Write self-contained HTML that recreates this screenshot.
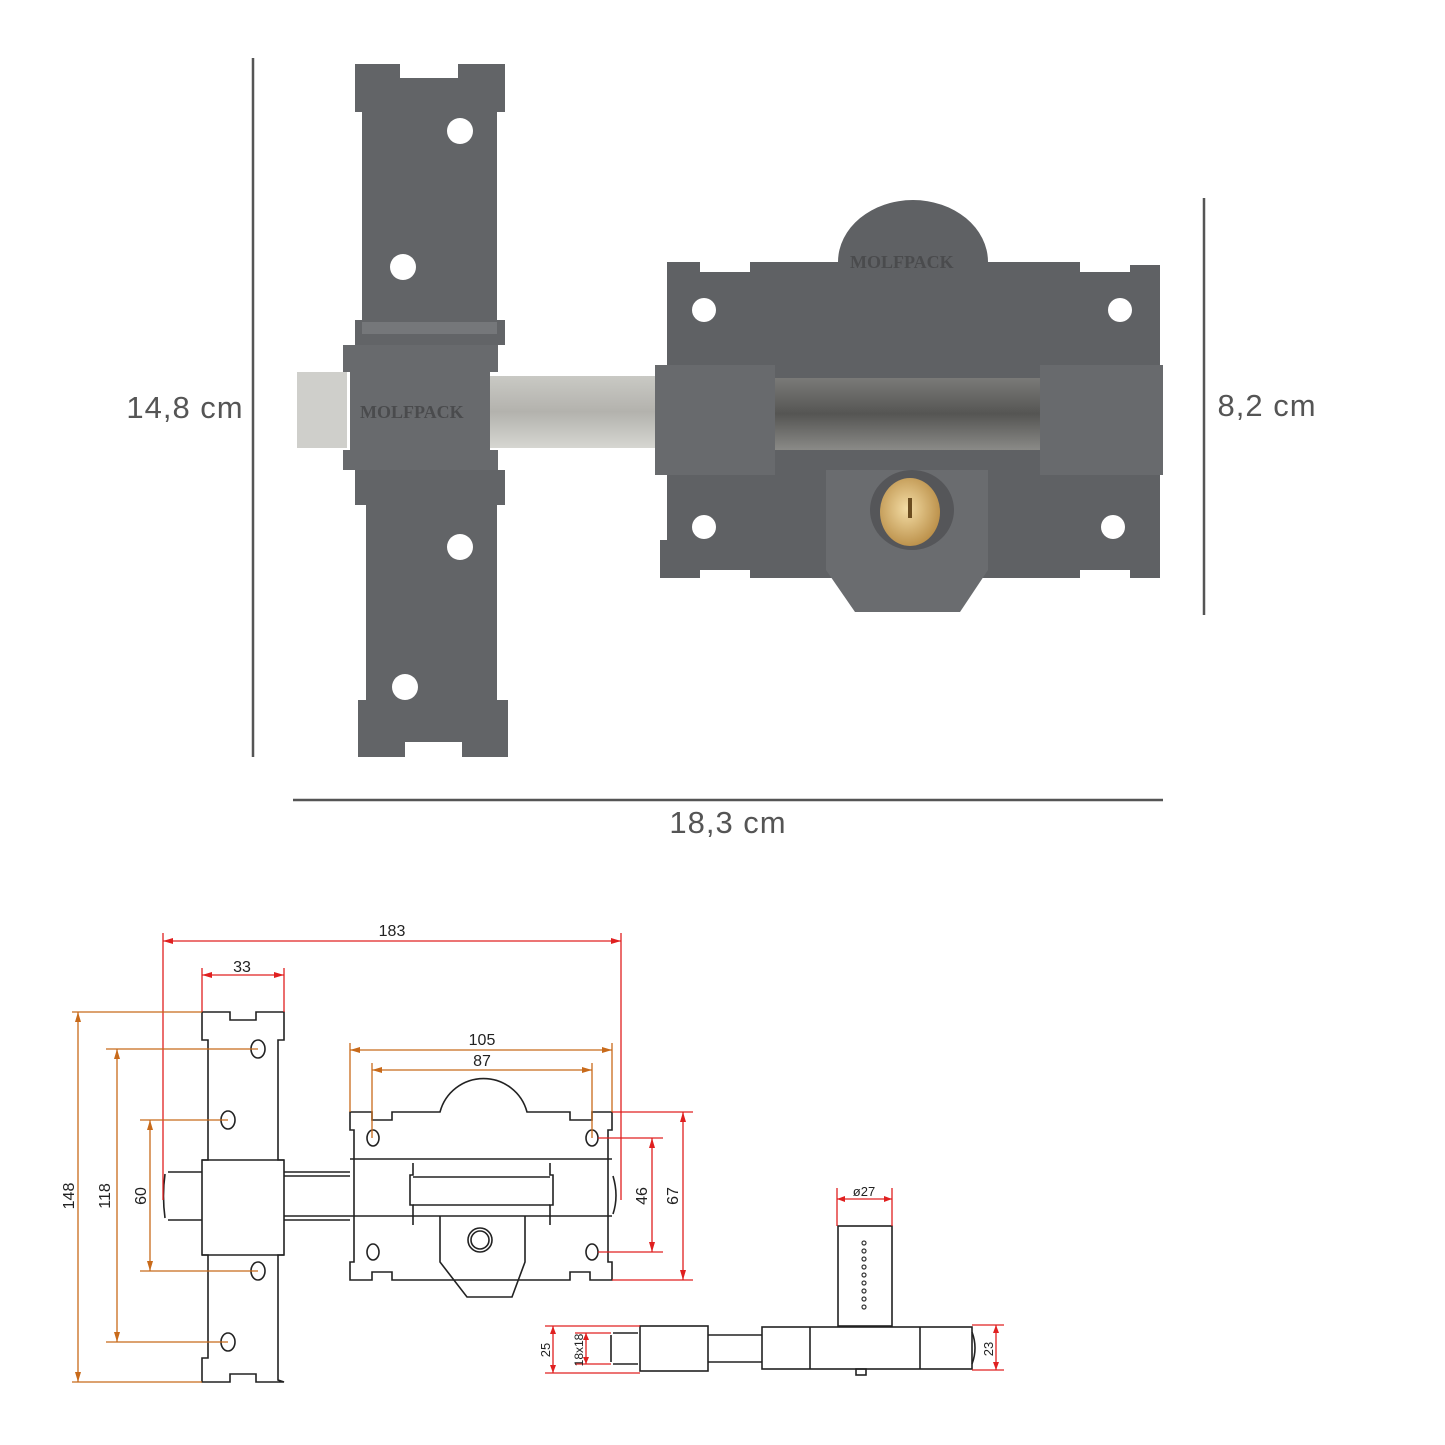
<!DOCTYPE html>
<html><head><meta charset="utf-8"><style>
html,body{margin:0;padding:0;background:#fff;}
svg{display:block;}
</style></head><body>
<svg width="1445" height="1445" viewBox="0 0 1445 1445" xmlns="http://www.w3.org/2000/svg">
<defs>
<linearGradient id="bar" x1="0" y1="0" x2="0" y2="1">
<stop offset="0" stop-color="#c9c9c4"/><stop offset="0.5" stop-color="#b3b2ad"/><stop offset="1" stop-color="#d6d6d1"/>
</linearGradient>
<linearGradient id="bar2" x1="0" y1="0" x2="0" y2="1">
<stop offset="0" stop-color="#7a7a78"/><stop offset="0.5" stop-color="#555553"/><stop offset="1" stop-color="#8a8a87"/>
</linearGradient>
<radialGradient id="gold" cx="0.45" cy="0.45" r="0.6">
<stop offset="0" stop-color="#f3dca4"/><stop offset="1" stop-color="#b88c45"/>
</radialGradient>
</defs>

<!-- PHOTO -->
<path d="M355,64 L400,64 L400,78 L458,78 L458,64 L505,64 L505,112 L497,112 L497,320 L505,320 L505,345 L355,345 L355,320 L362,320 L362,112 L355,112 Z" fill="#626467"/>
<path d="M355,470 L505,470 L505,505 L497,505 L497,700 L508,700 L508,757 L462,757 L462,742 L405,742 L405,757 L358,757 L358,700 L366,700 L366,505 L355,505 Z" fill="#626467"/>
<rect x="362" y="322" width="135" height="12" fill="#75777a"/>
<circle cx="460" cy="131" r="13" fill="#fff"/>
<circle cx="403" cy="267" r="13" fill="#fff"/>
<circle cx="460" cy="547" r="13" fill="#fff"/>
<circle cx="405" cy="687" r="13" fill="#fff"/>
<path d="M667,262 L700,262 L700,272 L750,272 L750,262 L838,262 A75,62 0 0 1 988,262 L1080,262 L1080,272 L1130,272 L1130,265 L1160,265 L1160,578 L1130,578 L1130,570 L1080,570 L1080,578 L750,578 L750,570 L700,570 L700,578 L660,578 L660,540 L667,540 Z" fill="#5f6164"/>
<circle cx="704" cy="310" r="12" fill="#fff"/>
<circle cx="1120" cy="310" r="12" fill="#fff"/>
<circle cx="704" cy="527" r="12" fill="#fff"/>
<circle cx="1113" cy="527" r="12" fill="#fff"/>
<rect x="297" y="372" width="50" height="76" fill="#cfcfcb"/>
<rect x="490" y="376" width="175" height="72" fill="url(#bar)"/>
<rect x="775" y="378" width="270" height="72" fill="url(#bar2)"/>
<path d="M343,345 L498,345 L498,372 L490,372 L490,450 L498,450 L498,470 L343,470 L343,450 L350,450 L350,372 L343,372 Z" fill="#686a6d"/>
<path d="M655,365 L775,365 L775,475 L655,475 Z" fill="#686a6d"/>
<path d="M1040,365 L1163,365 L1163,475 L1040,475 Z" fill="#686a6d"/>
<text x="360" y="418" font-family="Liberation Serif,serif" font-size="18" fill="#4a4b4d" font-weight="bold">MOLFPACK</text>
<text x="850" y="268" font-family="Liberation Serif,serif" font-size="18" fill="#4a4b4d" font-weight="bold">MOLFPACK</text>
<path d="M826,470 L988,470 L988,570 L960,612 L855,612 L826,570 Z" fill="#6a6c6f"/>
<ellipse cx="912" cy="510" rx="42" ry="40" fill="#555659"/>
<ellipse cx="910" cy="512" rx="30" ry="34" fill="url(#gold)"/>
<rect x="908" y="498" width="4" height="20" fill="#6b4d20"/>

<g stroke="#555" stroke-width="2.5">
<line x1="253" y1="58" x2="253" y2="757"/>
<line x1="1204" y1="198" x2="1204" y2="615"/>
<line x1="293" y1="800" x2="1163" y2="800"/>
</g>
<g font-family="Liberation Sans,sans-serif" font-size="31" fill="#555" letter-spacing="1">
<text x="185" y="418" text-anchor="middle">14,8 cm</text>
<text x="1267" y="416" text-anchor="middle">8,2 cm</text>
<text x="728" y="833" text-anchor="middle">18,3 cm</text>
</g>

<!-- DRAWING -->
<g fill="none" stroke="#222" stroke-width="1.6">
<path d="M202,1012 L230,1012 L230,1020 L256,1020 L256,1012 L284,1012 L284,1040 L278,1040 L278,1160 L284,1160 L284,1255 L278,1255 L278,1380 L284,1382 L256,1382 L256,1374 L230,1374 L230,1382 L202,1382 L202,1358 L208,1358 L208,1255 L202,1255 L202,1160 L208,1160 L208,1040 L202,1040 Z"/>
<line x1="202" y1="1160" x2="284" y2="1160"/>
<line x1="202" y1="1255" x2="284" y2="1255"/>
<ellipse cx="258" cy="1049" rx="7" ry="9"/>
<ellipse cx="228" cy="1120" rx="7" ry="9"/>
<ellipse cx="258" cy="1271" rx="7" ry="9"/>
<ellipse cx="228" cy="1342" rx="7" ry="9"/>
<path d="M168,1172 L202,1172 M168,1220 L202,1220 M165,1174 Q162,1196 165,1218"/>
<path d="M284,1172 L350,1172 M284,1176 L350,1176 M284,1220 L350,1220 M284,1216 L350,1216"/>
<path d="M350,1112 L372,1112 L372,1120 L392,1120 L392,1112 L440,1112 A45,45 0 0 1 527,1112 L570,1112 L570,1120 L592,1120 L592,1112 L612,1112 L612,1130 L608,1130 L608,1262 L612,1262 L612,1280 L590,1280 L590,1272 L570,1272 L570,1280 L392,1280 L392,1272 L372,1272 L372,1280 L350,1280 L350,1262 L354,1262 L354,1130 L350,1130 Z"/>
<line x1="350" y1="1159" x2="612" y2="1159"/>
<line x1="350" y1="1216" x2="612" y2="1216"/>
<path d="M413,1163 L413,1175 L410,1175 L410,1205 L413,1205 L413,1225 M550,1163 L550,1175 L553,1175 L553,1205 L550,1205 L550,1225"/>
<line x1="413" y1="1177" x2="550" y2="1177"/>
<line x1="413" y1="1205" x2="550" y2="1205"/>
<path d="M613,1176 Q619,1196 613,1214"/>
<ellipse cx="373" cy="1138" rx="6" ry="8"/>
<ellipse cx="592" cy="1138" rx="6" ry="8"/>
<ellipse cx="373" cy="1252" rx="6" ry="8"/>
<ellipse cx="592" cy="1252" rx="6" ry="8"/>
<path d="M440,1216 L440,1262 L467,1297 L512,1297 L525,1262 L525,1216"/>
<circle cx="480" cy="1240" r="12"/><circle cx="480" cy="1240" r="9"/>
<path d="M613,1333 L638,1333 M613,1364 L638,1364 M611,1335 L611,1362"/>
<rect x="640" y="1326" width="68" height="45"/>
<path d="M708,1335 L762,1335 M708,1362 L762,1362"/>
<rect x="762" y="1327" width="210" height="42"/>
<line x1="810" y1="1327" x2="810" y2="1369"/>
<line x1="920" y1="1327" x2="920" y2="1369"/>
<path d="M972,1332 Q978,1348 972,1364"/>
<rect x="838" y="1226" width="54" height="100"/>
<rect x="856" y="1369" width="10" height="6"/>
</g>
<g fill="none" stroke="#333" stroke-width="1.2">
<circle cx="864" cy="1243" r="2"/><circle cx="864" cy="1251" r="2"/><circle cx="864" cy="1259" r="2"/><circle cx="864" cy="1267" r="2"/><circle cx="864" cy="1275" r="2"/><circle cx="864" cy="1283" r="2"/><circle cx="864" cy="1291" r="2"/><circle cx="864" cy="1299" r="2"/><circle cx="864" cy="1307" r="2"/>
</g>

<g stroke="#e02020" stroke-width="1.3" fill="none">
<line x1="163" y1="933" x2="163" y2="1200"/>
<line x1="621" y1="933" x2="621" y2="1200"/>
<line x1="163" y1="941" x2="621" y2="941"/>
<line x1="202" y1="968" x2="202" y2="1012"/>
<line x1="284" y1="968" x2="284" y2="1012"/>
<line x1="202" y1="975" x2="284" y2="975"/>
<line x1="612" y1="1112" x2="693" y2="1112"/>
<line x1="612" y1="1280" x2="693" y2="1280"/>
<line x1="683" y1="1112" x2="683" y2="1280"/>
<line x1="598" y1="1138" x2="663" y2="1138"/>
<line x1="598" y1="1252" x2="663" y2="1252"/>
<line x1="652" y1="1138" x2="652" y2="1252"/>
<line x1="837" y1="1188" x2="837" y2="1226"/>
<line x1="892" y1="1188" x2="892" y2="1226"/>
<line x1="837" y1="1199" x2="892" y2="1199"/>
<line x1="545" y1="1326" x2="640" y2="1326"/>
<line x1="545" y1="1373" x2="640" y2="1373"/>
<line x1="553" y1="1326" x2="553" y2="1373"/>
<line x1="575" y1="1333" x2="611" y2="1333"/>
<line x1="575" y1="1364" x2="611" y2="1364"/>
<line x1="586" y1="1333" x2="586" y2="1364"/>
<line x1="972" y1="1325" x2="1004" y2="1325"/>
<line x1="972" y1="1370" x2="1004" y2="1370"/>
<line x1="996" y1="1325" x2="996" y2="1370"/>
</g>
<g stroke="#c86a1a" stroke-width="1.3" fill="none">
<line x1="72" y1="1012" x2="202" y2="1012"/>
<line x1="72" y1="1382" x2="202" y2="1382"/>
<line x1="78" y1="1012" x2="78" y2="1382"/>
<line x1="106" y1="1049" x2="258" y2="1049"/>
<line x1="106" y1="1342" x2="228" y2="1342"/>
<line x1="117" y1="1049" x2="117" y2="1342"/>
<line x1="140" y1="1120" x2="228" y2="1120"/>
<line x1="140" y1="1271" x2="258" y2="1271"/>
<line x1="150" y1="1120" x2="150" y2="1271"/>
<line x1="350" y1="1043" x2="350" y2="1112"/>
<line x1="612" y1="1043" x2="612" y2="1112"/>
<line x1="350" y1="1050" x2="612" y2="1050"/>
<line x1="372" y1="1063" x2="372" y2="1138"/>
<line x1="592" y1="1063" x2="592" y2="1138"/>
<line x1="372" y1="1070" x2="592" y2="1070"/>
</g>
<g fill="#e02020">
<path d="M163,941 l10,-3 v6 z M621,941 l-10,-3 v6 z M202,975 l10,-3 v6 z M284,975 l-10,-3 v6 z M683,1112 l-3,10 h6 z M683,1280 l-3,-10 h6 z M652,1138 l-3,10 h6 z M652,1252 l-3,-10 h6 z M837,1199 l8,-3 v6 z M892,1199 l-8,-3 v6 z M553,1326 l-3,8 h6 z M553,1373 l-3,-8 h6 z M586,1333 l-3,7 h6 z M586,1364 l-3,-7 h6 z M996,1325 l-3,8 h6 z M996,1370 l-3,-8 h6 z"/>
</g>
<g fill="#c86a1a">
<path d="M78,1012 l-3,10 h6 z M78,1382 l-3,-10 h6 z M117,1049 l-3,10 h6 z M117,1342 l-3,-10 h6 z M150,1120 l-3,10 h6 z M150,1271 l-3,-10 h6 z M350,1050 l10,-3 v6 z M612,1050 l-10,-3 v6 z M372,1070 l10,-3 v6 z M592,1070 l-10,-3 v6 z"/>
</g>
<g font-family="Liberation Sans Narrow,Liberation Sans,sans-serif" font-size="16" fill="#222" text-anchor="middle">
<text x="392" y="936">183</text>
<text x="242" y="972">33</text>
<text x="482" y="1045">105</text>
<text x="482" y="1066">87</text>
<text x="864" y="1196" font-size="13">ø27</text>
<text transform="translate(74,1196) rotate(-90)">148</text>
<text transform="translate(110,1196) rotate(-90)">118</text>
<text transform="translate(146,1196) rotate(-90)">60</text>
<text transform="translate(647,1196) rotate(-90)">46</text>
<text transform="translate(678,1196) rotate(-90)">67</text>
<text transform="translate(550,1350) rotate(-90)" font-size="13">25</text>
<text transform="translate(583,1350) rotate(-90)" font-size="12">18x18</text>
<text transform="translate(993,1349) rotate(-90)" font-size="13">23</text>
</g>
</svg>
</body></html>
